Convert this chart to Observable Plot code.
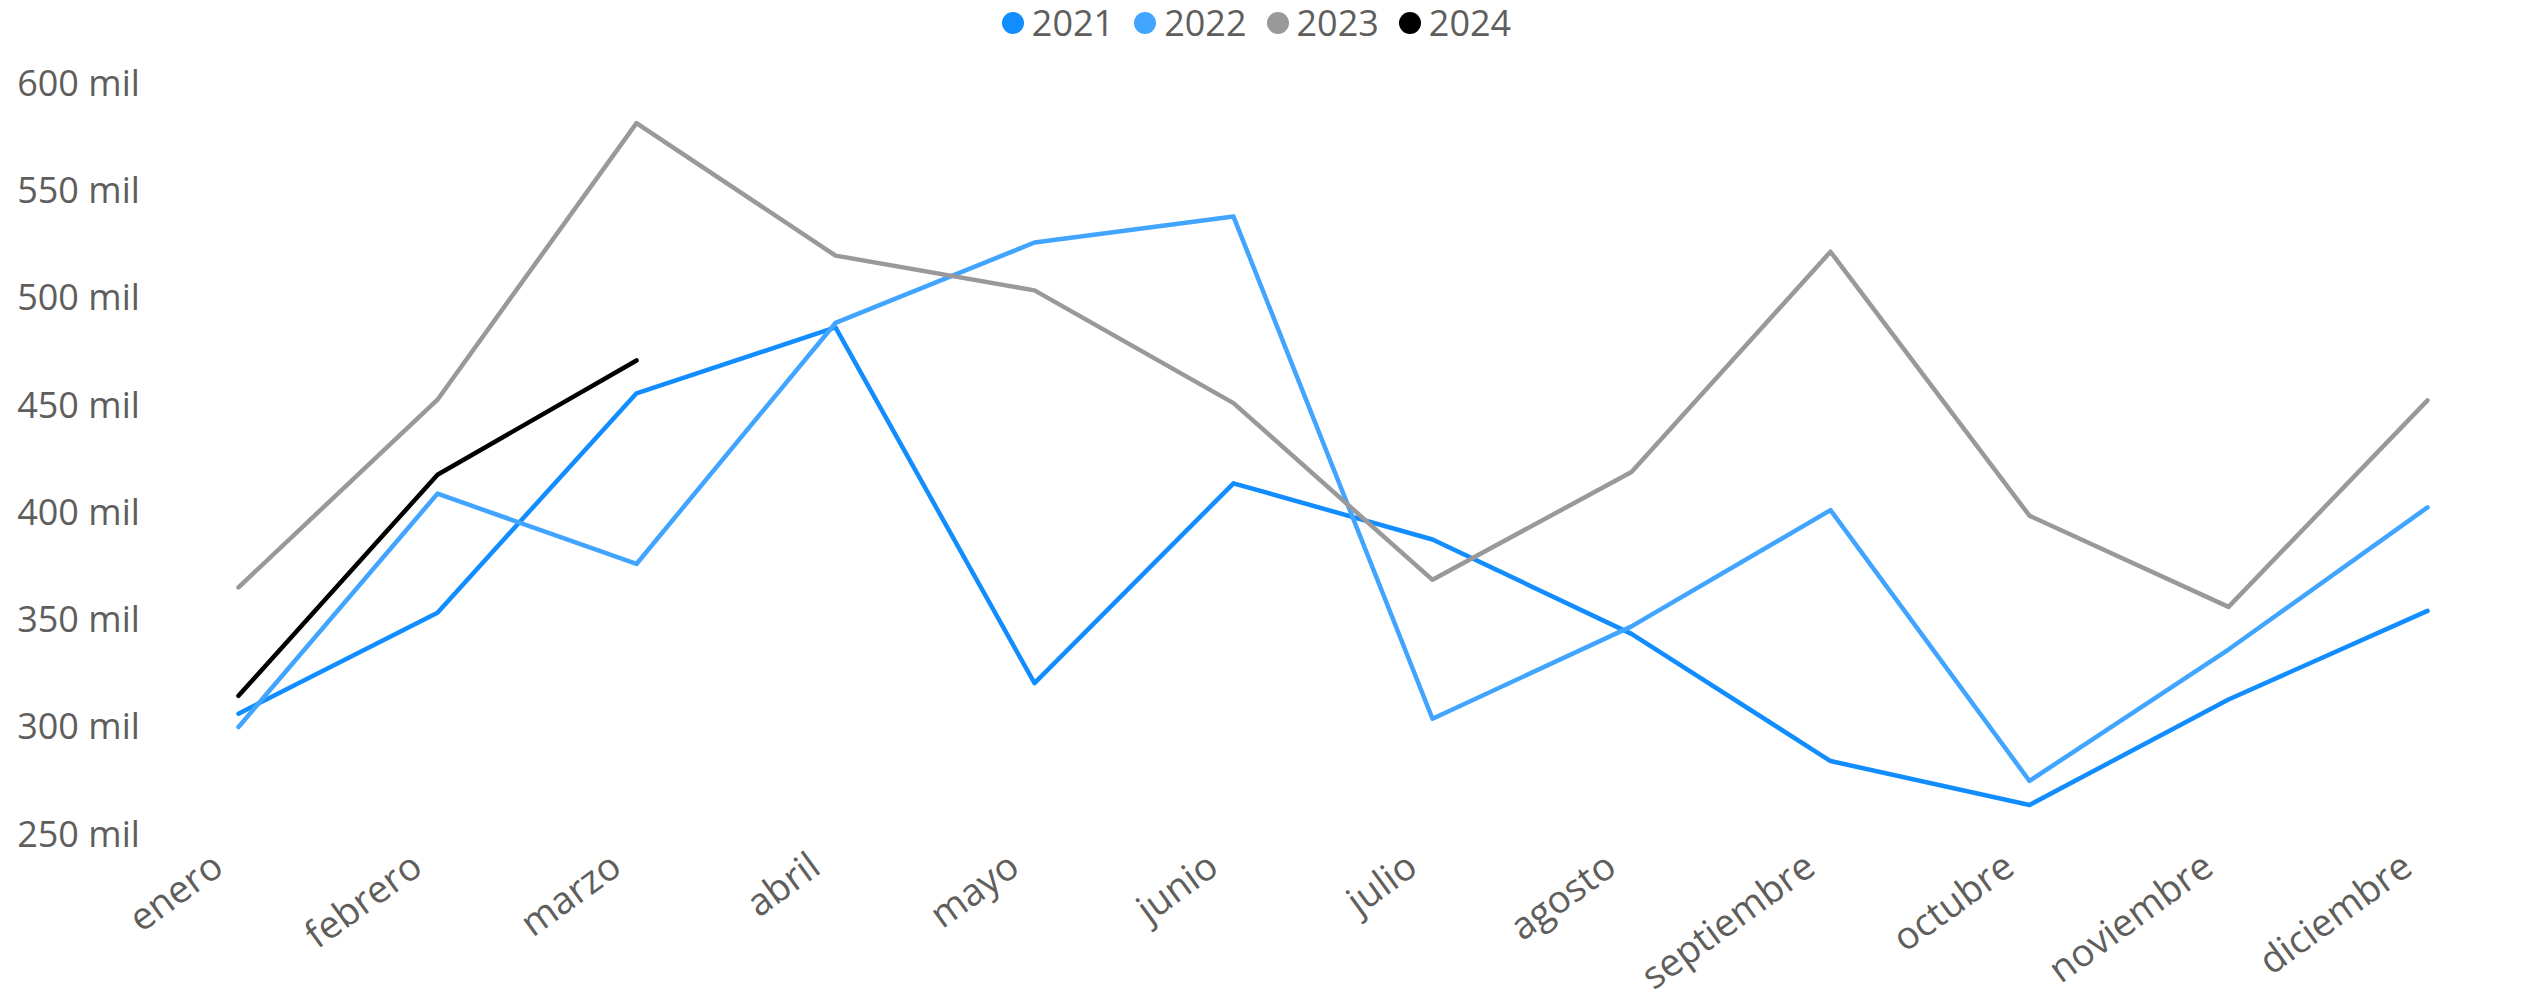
<!DOCTYPE html>
<html><head><meta charset="utf-8">
<script src="https://cdn.jsdelivr.net/npm/d3@7"></script>
<script src="https://cdn.jsdelivr.net/npm/@observablehq/plot@0.6"></script>
<style>
body{margin:0;background:#fff;font-family:'Segoe UI','Open Sans',sans-serif;color:#605E5C;}
#legend{height:45px;display:flex;justify-content:center;align-items:center;gap:20px;font-size:36px;padding-right:12px;}
.item{display:flex;align-items:center;gap:8px;line-height:1;}
.dot{width:22px;height:22px;border-radius:50%;}
</style></head><body>
<div id="legend"></div><div id="chart"></div>
<script>
const months = ["enero","febrero","marzo","abril","mayo","junio","julio","agosto","septiembre","octubre","noviembre","diciembre"];
const years = ["2021","2022","2023","2024"];
const colors = ["#118DFF","#41A5FF","#999999","#000000"];
const yTicks = [250,300,350,400,450,500,550,600];
// values in thousands ("mil")
const v2021 = [306.6, 353.7, 456, 486.7, 320.8, 414, 387.8, 343.8, 284.5, 264, 313.2, 354.5];
const v2022 = [300.4, 409.2, 376.4, 488.8, 526.3, 538.4, 304.2, 347.3, 401.5, 275.2, 336.5, 402.8];
const v2023 = [365.5, 453, 582, 520.2, 504, 451.4, 369, 419.3, 522, 398.9, 356.4, 452.7];
const v2024 = [314.9, 418, 471.3];

const seriesValues = [v2021, v2022, v2023, v2024];
const rows = [];
seriesValues.forEach((vals, i) => vals.forEach((v, j) => rows.push({month: months[j], year: years[i], value: v})));

const legend = document.getElementById("legend");
years.forEach((y, i) => {
  const it = document.createElement("div"); it.className = "item";
  const d = document.createElement("span"); d.className = "dot"; d.style.background = colors[i];
  const t = document.createElement("span"); t.textContent = y;
  it.append(d, t); legend.append(it);
});

const font = "'Segoe UI','Open Sans',sans-serif";
const chart = Plot.plot({
  width: 2525, height: 954,
  marginTop: 39, marginBottom: 164.5, marginLeft: 236.7, marginRight: 96,
  style: {fontFamily: font, fontSize: "36px", color: "#605E5C", background: "#fff", overflow: "visible"},
  x: {type: "point", domain: months, padding: 0},
  y: {domain: [250, 600]},
  color: {domain: years, range: colors},
  marks: [
    Plot.axisY({ticks: yTicks, tickFormat: d => `${d} mil`, tickSize: 0, tickPadding: 0, textAnchor: "start", dx: -220, fontSize: 36, label: null}),
    Plot.axisX({tickRotate: -36, tickSize: 0, tickPadding: 0, dx: -20, dy: 27, fontSize: 38, label: null}),
    Plot.lineY(rows, {x: "month", y: "value", z: "year", stroke: "year", strokeWidth: 4.5, strokeLinejoin: "round", strokeLinecap: "round"})
  ]
});
document.getElementById("chart").append(chart);
</script></body></html>
